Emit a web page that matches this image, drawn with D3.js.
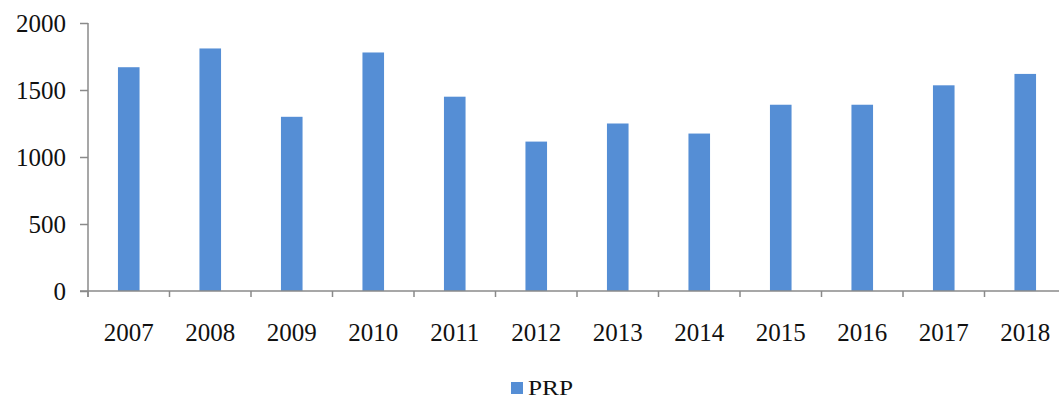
<!DOCTYPE html>
<html>
<head>
<meta charset="utf-8">
<script src="https://cdn.jsdelivr.net/npm/d3@7"></script>
<style>
  html, body { margin: 0; padding: 0; background: #fff; }
  svg { display: block; }
  text { font-family: "Liberation Serif", "Times New Roman", serif; fill: #111; }
</style>
</head>
<body>
<svg id="chart" width="1059" height="399"></svg>
<script>
const years = ["2007","2008","2009","2010","2011","2012","2013","2014","2015","2016","2017","2018"];
const prp = [1670, 1810, 1300, 1780, 1450, 1115, 1250, 1175, 1390, 1390, 1535, 1620];
const yTicks = [0, 500, 1000, 1500, 2000];
const seriesName = "PRP";

const svg = d3.select("#chart");
const x0 = 88, bandW = 81.5;
const x = d3.scaleBand().domain(years).range([x0, x0 + bandW * years.length]).paddingInner(0.735).paddingOuter(0.3675);
const y = d3.scaleLinear().domain([0, 2000]).range([291, 23]);
const axisColor = "#8a8a8a";
const barColor = "#558ed5";

// bars
svg.append("g").selectAll("rect").data(years).join("rect")
  .attr("x", (d) => x(d))
  .attr("width", x.bandwidth())
  .attr("y", (d, i) => y(prp[i]))
  .attr("height", (d, i) => y(0) - y(prp[i]))
  .attr("fill", barColor);

// y axis
const yAxis = svg.append("g").attr("transform", `translate(${x0},0)`)
  .call(d3.axisLeft(y).tickValues(yTicks).tickSize(8).tickPadding(14).tickFormat(d3.format("d")));
yAxis.select(".domain").attr("stroke", axisColor).attr("stroke-width", 1.5).attr("d", `M0,${y(2000)}V${y(0) + 6}`);
yAxis.selectAll(".tick line").attr("stroke", axisColor).attr("stroke-width", 1.5);
yAxis.selectAll(".tick text").style("font-size", "25px").attr("fill", "#111");

// x axis: ticks at category boundaries
const boundaries = d3.range(years.length + 1).map((i) => x0 + i * bandW);
const xAxisG = svg.append("g").attr("transform", `translate(0,${y(0)})`)
  .call(d3.axisBottom(x).tickSize(0).tickPadding(32));
xAxisG.select(".domain").attr("stroke", axisColor).attr("stroke-width", 1.5).attr("d", `M${x0 - 8},0H${x0 + bandW * years.length}`);
xAxisG.selectAll(".tick text").style("font-size", "25px").attr("fill", "#111");
xAxisG.selectAll(".bnd").data(boundaries).join("line").attr("class", "bnd")
  .attr("x1", (d) => d).attr("x2", (d) => d).attr("y1", 0).attr("y2", 6)
  .attr("stroke", axisColor).attr("stroke-width", 1.5);

// legend
const lg = svg.append("g").attr("transform", "translate(511,382)");
lg.append("rect").attr("width", 12).attr("height", 12).attr("fill", barColor);
lg.append("text").attr("x", 17).attr("y", 13).style("font-size", "20px").attr("textLength", 45).attr("lengthAdjust", "spacingAndGlyphs").text(seriesName);
</script>
</body>
</html>
